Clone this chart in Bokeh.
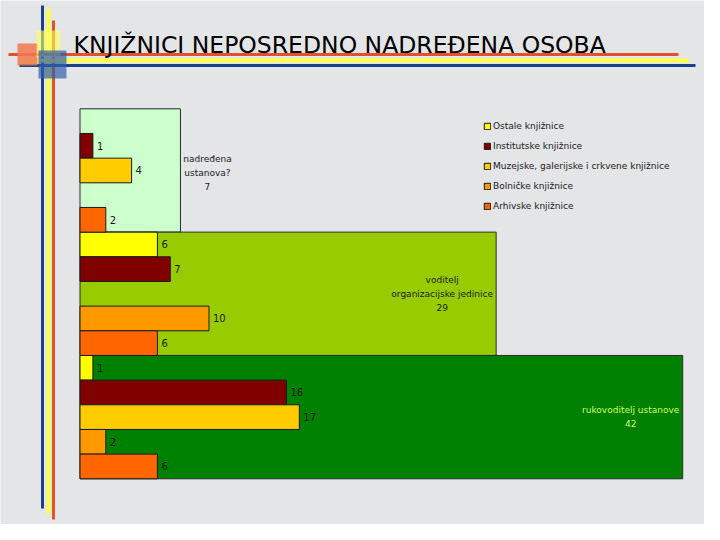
from bokeh.plotting import figure
from bokeh.models import Range1d, ColumnDataSource, Legend, LegendItem
from bokeh.core.properties import value
from bokeh.embed import file_html
from bokeh.resources import INLINE

# ---------------- data ----------------
title_text = "KNJIŽNICI NEPOSREDNO NADREĐENA OSOBA"
categories = ["nadređena\nustanova?", "voditelj\norganizacijske jedinice", "rukovoditelj ustanove"]
totals = [7, 29, 42]
series_names = ["Ostale knjižnice", "Institutske knjižnice",
                "Muzejske, galerijske i crkvene knjižnice", "Bolničke knjižnice",
                "Arhivske knjižnice"]
ostale = [0, 6, 1]
institutske = [1, 7, 16]
muzejske = [4, 0, 17]
bolnicke = [0, 10, 2]
arhivske = [2, 6, 6]
series_values = [ostale, institutske, muzejske, bolnicke, arhivske]

# ---------------- styles ----------------
series_colors = ["#FFFF00", "#800000", "#FFCC00", "#FF9900", "#FF6600"]
box_colors = ["#CCFFCC", "#99CC00", "#008000"]
box_text_colors = ["#1a1a1a", "#1a1a1a", "#CCFF66"]
box_text_dx = [27, -54, -52]
box_text_dy = [3, 0, 0]
BG = "#e4e5e7"
FONT = value("DejaVu Sans")

W, H = 704, 524
p = figure(width=W, height=H, x_range=Range1d(0, W), y_range=Range1d(H, 0),
           output_backend="svg", toolbar_location=None, min_border=0,
           x_axis_location=None, y_axis_location=None)
p.grid.visible = False
p.outline_line_color = None
p.background_fill_color = BG
p.border_fill_color = BG

# chart coordinate systems (placed inside the canvas)
x0 = 79.5          # px of value 0
bar_px = 12.9      # px per unit for bars
box_px = 14.35     # px per unit for total boxes
y0 = 108.3         # px of top of first category
cat_px = 123.33    # px per category
p.extra_x_ranges = {
    "bar": Range1d(-x0 / bar_px, (W - x0) / bar_px),
    "box": Range1d(-x0 / box_px, (W - x0) / box_px),
}
p.extra_y_ranges = {"cat": Range1d((H - y0) / cat_px, -y0 / cat_px)}

# ---------------- decorations ----------------
p.segment(x0=[42], y0=[5], x1=[42], y1=[508], line_color="#1c3f8f", line_width=3)
p.segment(x0=[48], y0=[8], x1=[48], y1=[513], line_color="#ffff44", line_width=4)
p.segment(x0=[53], y0=[20], x1=[53], y1=[519], line_color="#e0522a", line_width=3)
p.segment(x0=[8], y0=[54], x1=[678], y1=[54], line_color="#e0522a", line_width=3)
p.segment(x0=[20], y0=[60], x1=[688], y1=[60], line_color="#ffff44", line_width=4)
p.segment(x0=[19], y0=[65], x1=[695], y1=[65], line_color="#1c3f8f", line_width=3)
p.quad(left=[17], right=[37], top=[43], bottom=[65], fill_color="#f07850", fill_alpha=0.85, line_color=None)
p.quad(left=[36], right=[60], top=[30], bottom=[57], fill_color="#ffff55", fill_alpha=0.6, line_color=None)
p.quad(left=[38], right=[66], top=[50], bottom=[78], fill_color="#2f5fa8", fill_alpha=0.7, line_color=None)

p.text(x=[73], y=[44], text=[title_text], text_font=FONT, text_font_size="23.5px",
       text_color="#000000", text_baseline="alphabetic", text_align="left")

# ---------------- total boxes ----------------
ncat = len(categories)
box_src = ColumnDataSource(dict(
    y=[i + 0.5 for i in range(ncat)],
    right=totals,
    color=box_colors,
    label=[c + "\n" + str(t) for c, t in zip(categories, totals)],
    tcolor=box_text_colors,
    dx=box_text_dx,
    dy=box_text_dy,
))
p.hbar(y="y", right="right", left=0, height=1.0, source=box_src,
       fill_color="color", line_color="#2a2a2a", line_width=1,
       x_range_name="box", y_range_name="cat")

# ---------------- bars ----------------
nser = len(series_values)
items = []
for j, (name, vals, col) in enumerate(zip(series_names, series_values, series_colors)):
    ys, vs = [], []
    for i, v in enumerate(vals):
        if v > 0:
            ys.append(i + (j + 0.5) / nser)
            vs.append(v)
    src = ColumnDataSource(dict(y=ys, right=vs, lab=[str(v) for v in vs]))
    r = p.hbar(y="y", right="right", left=0, height=1.0 / nser, source=src,
               fill_color=col, line_color="#1a1a1a", line_width=1,
               x_range_name="bar", y_range_name="cat")
    p.text(x="right", y="y", text="lab", source=src, x_offset=4,
           text_font=FONT, text_font_size="10px", text_color="#1a1a1a",
           text_baseline="middle", text_align="left",
           x_range_name="bar", y_range_name="cat")
    items.append(LegendItem(label=name, renderers=[r]))

# box labels
p.text(x="right", y="y", text="label", source=box_src, x_offset="dx", y_offset="dy",
       text_font=FONT, text_font_size="9px", text_color="tcolor",
       text_align="center", text_baseline="middle", text_line_height=1.4,
       x_range_name="box", y_range_name="cat")

legend = Legend(items=items, location=(483, 313), orientation="vertical",
                label_text_font="DejaVu Sans", label_text_font_size="9px",
                label_text_color="#1a1a1a", label_standoff=2,
                glyph_width=8, glyph_height=8, label_height=8, spacing=10,
                padding=0, margin=0, border_line_color=None,
                background_fill_alpha=0)
p.add_layout(legend)

open("out.html", "w").write(file_html(p, INLINE))
